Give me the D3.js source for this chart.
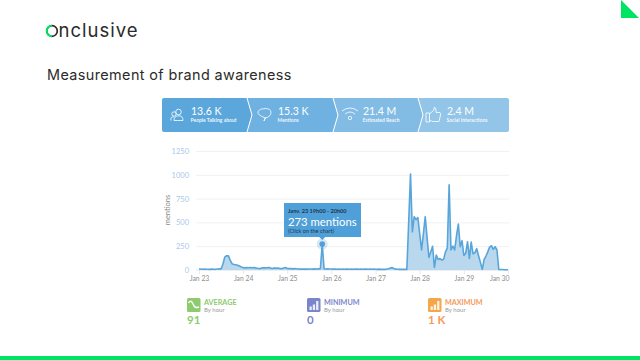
<!DOCTYPE html>
<html lang="en">
    <head>
        <meta charset="utf-8">
        <title>Measurement of brand awareness</title>
        <script src="https://cdnjs.cloudflare.com/ajax/libs/d3/7.8.5/d3.min.js"></script>
        <style>
            html, body { margin: 0; padding: 0; background: #fff; overflow: hidden; }
            text { font-family: Lato, sans-serif; }
            .slide text { font-family: Inter, sans-serif; fill: #2b2b2b; }
        </style>
    </head>
    <body>
        <svg id="chart" width="640" height="360"></svg>
        <script>
            // mentions per hour, one array per day
            var jan23 = [10, 10, 8, 9, 8, 8, 7, 9, 8, 7, 10, 12, 12, 60, 135, 150, 148, 100, 65, 58, 55, 50, 42, 32];
            var jan24 = [25, 22, 25, 23, 25, 24, 25, 20, 18, 14, 20, 24, 22, 24, 26, 20, 16, 22, 18, 20, 16, 14, 20, 26];
            var jan25 = [16, 14, 16, 12, 14, 13, 10, 9, 10, 9, 11, 9, 10, 11, 9, 12, 10, 12, 14, 273, 12, 10, 12, 11];
            var jan26 = [10, 9, 10, 8, 9, 8, 9, 8, 9, 10, 8, 9, 8, 10, 9, 8, 9, 8, 10, 9, 8, 9, 8, 9];
            var jan27 = [8, 7, 9, 7, 8, 7, 8, 14, 20, 25, 15, 9, 8, 7, 8, 7, 8, 5, 500, 1008, 400, 560, 530, 550];
            var jan28 = [380, 210, 380, 560, 340, 133, 190, 250, 28, 157, 110, 120, 105, 112, 190, 230, 896, 210, 252, 210, 360, 483, 245, 308];
            var jan29 = [154, 175, 297, 122, 294, 170, 180, 224, 150, 80, 7, 110, 147, 190, 240, 255, 217, 245, 210, 5, 5, 5, 3, 3];
            var jan30 = [2];
            var mentions = [].concat(jan23, jan24, jan25, jan26, jan27, jan28, jan29, jan30);

            var dayLabels = ["Jan 23", "Jan 24", "Jan 25", "Jan 26", "Jan 27", "Jan 28", "Jan 29", "Jan 30"];
            var dayHours = [0, 24, 48, 72, 96, 120, 144, 168];
            var yTicks = [0, 250, 500, 750, 1000, 1250];

            var kpiValues = ["13.6 K", "15.3 K", "21.4 M", "2.4 M"];
            var kpiLabels = ["People Talking about", "Mentions", "Estimated Reach", "Social Interactions"];
            var kpiColors = ["#5ba7db", "#6fb1e0", "#82bce5", "#93c5e8"];

            var statNames = ["AVERAGE", "MINIMUM", "MAXIMUM"];
            var statValues = ["91", "0", "1 K"];
            var statColors = ["#8ccb6e", "#7a86c9", "#f5a64a"];
            var statTextColors = ["#8ccb6e", "#7a86c9", "#f59a5a"];

            var svg = d3.select("#chart");

            // slide furniture
            svg.append("rect").attr("x", 0).attr("y", 356).attr("width", 640).attr("height", 4).attr("fill", "#00e463");
            svg.append("path").attr("d", "M621,0L639,18L621,18Z").attr("fill", "#00e463");

            var slide = svg.append("g").attr("class", "slide");
            slide.append("circle").attr("cx", 52).attr("cy", 31).attr("r", 5.3)
                 .attr("fill", "none").attr("stroke", "#2b2b2b").attr("stroke-width", 1.7);
            slide.append("path").attr("d", "M52,25.7A5.3,5.3 0 0 0 52,36.3")
                 .attr("fill", "none").attr("stroke", "#00e463").attr("stroke-width", 1.8);
            slide.append("text").attr("x", 58.5).attr("y", 37).attr("font-size", 18.5).attr("letter-spacing", 1).text("nclusive");
            slide.append("text").attr("x", 47).attr("y", 80).attr("font-size", 14.4).attr("letter-spacing", 0.4).text("Measurement of brand awareness");

            // kpi banner: chevron separated segments
            var bannerTop = 98, bannerBottom = 132, bannerMid = 115;
            var segEdges = [162, 247, 333, 418, 509];
            var band = svg.append("g");
            kpiColors.forEach(function(c, i){
                var l = segEdges[i], r = segEdges[i + 1];
                var left = i == 0
                    ? "M" + l + "," + bannerTop
                    : "M" + l + "," + bannerTop + "L" + (l + 5) + "," + bannerMid + "L" + l + "," + bannerBottom;
                var d;
                if (i == 0) {
                    d = "M" + (l + 2) + "," + bannerTop + "L" + r + "," + bannerTop + "L" + (r + 5) + "," + bannerMid + "L" + r + "," + bannerBottom + "L" + (l + 2) + "," + bannerBottom + "Q" + l + "," + bannerBottom + " " + l + "," + (bannerBottom - 2) + "L" + l + "," + (bannerTop + 2) + "Q" + l + "," + bannerTop + " " + (l + 2) + "," + bannerTop + "Z";
                } else if (i == 3) {
                    d = left + "L" + (r - 2) + "," + bannerBottom + "Q" + r + "," + bannerBottom + " " + r + "," + (bannerBottom - 2) + "L" + r + "," + (bannerTop + 2) + "Q" + r + "," + bannerTop + " " + (r - 2) + "," + bannerTop + "Z";
                } else {
                    d = left + "L" + r + "," + bannerBottom + "L" + (r + 5) + "," + bannerMid + "L" + r + "," + bannerTop + "Z";
                }
                band.append("path").attr("d", d).attr("fill", c);
            });
            // white chevrons between the segments
            [1, 2, 3].forEach(function(i){
                var x = segEdges[i];
                band.append("path")
                    .attr("d", "M" + x + "," + bannerTop + "L" + (x + 5) + "," + bannerMid + "L" + x + "," + bannerBottom)
                    .attr("fill", "none").attr("stroke", "#fff").attr("stroke-width", 1);
            });

            var kpiX = [191, 278, 363, 447];
            band.selectAll("text.val").data(kpiValues).enter().append("text")
                .attr("class", "val").attr("x", function(d, i){return kpiX[i];}).attr("y", 114.5)
                .attr("font-size", 10.5).attr("fill", "#fff").text(function(d){return d;});
            band.selectAll("text.lab").data(kpiLabels).enter().append("text")
                .attr("class", "lab").attr("x", function(d, i){return kpiX[i] - 0.5;}).attr("y", 121.5)
                .attr("font-size", 5).attr("font-weight", 700).attr("fill", "#fff").attr("fill-opacity", 0.9)
                .text(function(d){return d;});

            // white line icons
            var icons = band.append("g").attr("fill", "none").attr("stroke", "#fff").attr("stroke-width", 0.8);
            icons.append("circle").attr("cx", 178.5).attr("cy", 112).attr("r", 2.8);
            icons.append("circle").attr("cx", 174).attr("cy", 114).attr("r", 2.2);
            icons.append("path").attr("d", "M171,120.5Q170,116.5 174,116.8M174,120.5Q174,115.8 179,115.8Q183,115.8 183,120.5Z");
            icons.append("path").attr("d", "M264,121L265.5,118Q257,115 258,111.5Q259.5,108.5 265,108.5Q270.5,108.5 271,112Q271,117 265,118Z");
            icons.append("path").attr("d", "M342,111Q350,105 358,111M345,114Q350,110 355,114");
            icons.append("circle").attr("cx", 350).attr("cy", 118).attr("r", 1.7);
            icons.append("path").attr("d", "M426,113H429.5V122H426ZM429.5,114L434,110V107.5Q436,107 436,110V112.5H440Q441,113 440.5,115L439,121.5H433L429.5,120.5");

            // line chart
            var margin = {left: 196, right: 509, top: 151, bottom: 270};
            var xScale = d3.scaleLinear().domain([0, 168]).range([199, 508]);
            var yScale = d3.scaleLinear().domain([0, 1250]).range([margin.bottom, margin.top]);

            var yAxis = d3.axisLeft(yScale).tickValues(yTicks).tickFormat(d3.format("d"))
                          .tickSize(margin.left - margin.right).tickPadding(7);
            var gy = svg.append("g").attr("transform", "translate(" + margin.left + ",0)").call(yAxis);
            gy.select(".domain").remove();
            gy.selectAll("line").attr("stroke", "#f0f1f3").attr("stroke-width", 1);
            gy.selectAll("text").attr("font-size", 7.5).attr("fill", "#a9c8ea").attr("font-family", "Lato, sans-serif");

            var xAxis = d3.axisBottom(xScale).tickValues(dayHours).tickSize(4).tickPadding(2)
                          .tickFormat(function(d, i){return dayLabels[i];});
            var gx = svg.append("g").attr("transform", "translate(0," + margin.bottom + ")").call(xAxis);
            gx.select(".domain").attr("stroke", "#e9ebee").attr("d", "M196,0H509");
            gx.selectAll("line").attr("stroke", "#e6e8eb");
            gx.selectAll("text").attr("font-size", 6.8).attr("fill", "#8d8d8d").attr("font-family", "Lato, sans-serif");
            gx.selectAll("text").filter(function(d){return d == 168;}).attr("text-anchor", "end").attr("dx", 1);

            svg.append("text").attr("transform", "translate(170,210) rotate(-90)")
               .attr("text-anchor", "middle").attr("font-size", 7.5).attr("fill", "#8a8a8a").text("mentions");

            var area = d3.area().x(function(d, i){return xScale(i);}).y0(yScale(0)).y1(function(d){return yScale(d);});
            var line = d3.line().x(function(d, i){return xScale(i);}).y(function(d){return yScale(d);});
            svg.append("path").datum(mentions).attr("d", area).attr("fill", "#b9d8ee");
            svg.append("path").datum(mentions).attr("d", line).attr("fill", "none")
               .attr("stroke", "#58a5da").attr("stroke-width", 1.6).attr("stroke-linejoin", "round");

            // tooltip on the Jan 25 peak
            var peakHour = 67;
            var px = xScale(peakHour), py = yScale(mentions[peakHour]);
            svg.append("circle").attr("cx", px).attr("cy", py).attr("r", 5.5).attr("fill", "#58a5da").attr("fill-opacity", 0.25);
            svg.append("circle").attr("cx", px).attr("cy", py).attr("r", 2.8).attr("fill", "#4f9fd8");
            var tip = svg.append("g");
            tip.append("path").attr("d", "M284,203H361V237H" + (px + 3) + "L" + px + ",240L" + (px - 3) + ",237H284Z").attr("fill", "#4f9fd8");
            tip.append("text").attr("x", 288).attr("y", 213).attr("font-size", 5.6).attr("font-weight", 700).attr("fill", "#20374d").text("Janv. 23 19h00 - 20h00");
            tip.append("text").attr("x", 288).attr("y", 225.5).attr("font-size", 11.3).attr("fill", "#fff").text("273 mentions");
            tip.append("text").attr("x", 288).attr("y", 232.5).attr("font-size", 5.6).attr("fill", "#20374d").text("(Click on the chart)");

            // stat blocks below the chart
            var statX = [187, 307, 428];
            statNames.forEach(function(name, i){
                var g = svg.append("g").attr("transform", "translate(" + statX[i] + ",298)");
                g.append("rect").attr("width", 13.5).attr("height", 14).attr("rx", 1.5).attr("fill", statColors[i]);
                if (i == 0) {
                    g.append("path").attr("d", "M1.5,5Q4,1 6,6T12,9").attr("fill", "none").attr("stroke", "#fff").attr("stroke-width", 1.4);
                } else {
                    g.append("path").attr("d", "M2.5,12V8.5H4.8V12ZM5.8,12V6.5H8.1V12ZM9.1,12V3H11.4V12Z").attr("fill", "#fff").attr("fill-opacity", 0.85);
                }
                g.append("text").attr("x", 17).attr("y", 6.5).attr("font-size", 7.2).attr("font-weight", 700).attr("fill", statTextColors[i]).text(name);
                g.append("text").attr("x", 17).attr("y", 14).attr("font-size", 6).attr("fill", "#9a9a9a").text("By hour");
                g.append("text").attr("x", 0).attr("y", 26).attr("font-size", 11.5).attr("font-weight", 700).attr("fill", statTextColors[i]).text(statValues[i]);
            });
        </script>
    </body>
</html>
